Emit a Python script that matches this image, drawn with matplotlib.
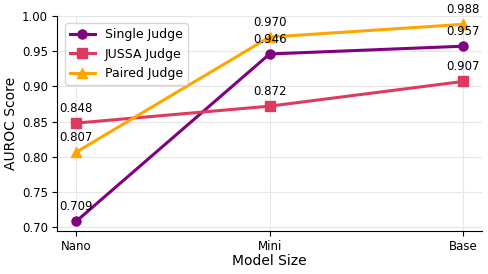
import matplotlib.pyplot as plt

# Data
model_sizes = ['Nano', 'Mini', 'Base']
single_judge = [0.709, 0.946, 0.957]
jussa_judge = [0.848, 0.872, 0.907]
paired_judge = [0.807, 0.970, 0.988]

series = [
    ('Single Judge', single_judge, '#800080', 'o'),
    ('JUSSA Judge', jussa_judge, '#DC3A5F', 's'),
    ('Paired Judge', paired_judge, '#FFA500', '^'),
]

fig = plt.figure(figsize=(4.88, 2.74), dpi=100)
ax = fig.add_axes([0.117, 0.157, 0.871, 0.785])

x = list(range(len(model_sizes)))
for label, vals, color, marker in series:
    ax.plot(x, vals, color=color, marker=marker, linewidth=2.2, markersize=6.5, label=label)
    for xi, v in zip(x, vals):
        ax.annotate(f'{v:.3f}', (xi, v), xytext=(0, 6), textcoords='offset points',
                    ha='center', va='bottom', fontsize=8.5)

ax.set_xticks(x)
ax.set_xticklabels(model_sizes)
ax.set_xlim(-0.1, 2.1)
ax.set_ylim(0.695, 1.0)
ax.set_yticks([0.70, 0.75, 0.80, 0.85, 0.90, 0.95, 1.00])
ax.tick_params(labelsize=8.5, length=3.5, pad=3)
ax.set_xlabel('Model Size', fontsize=10, labelpad=1)
ax.set_ylabel('AUROC Score', fontsize=10, labelpad=3)
ax.grid(True, color='#e6e6e6', linewidth=0.8)
ax.set_axisbelow(True)
ax.spines['top'].set_visible(False)
ax.spines['right'].set_visible(False)
ax.legend(loc='upper left', fontsize=9, borderaxespad=0.6)

fig.savefig('out.png', dpi=100)
